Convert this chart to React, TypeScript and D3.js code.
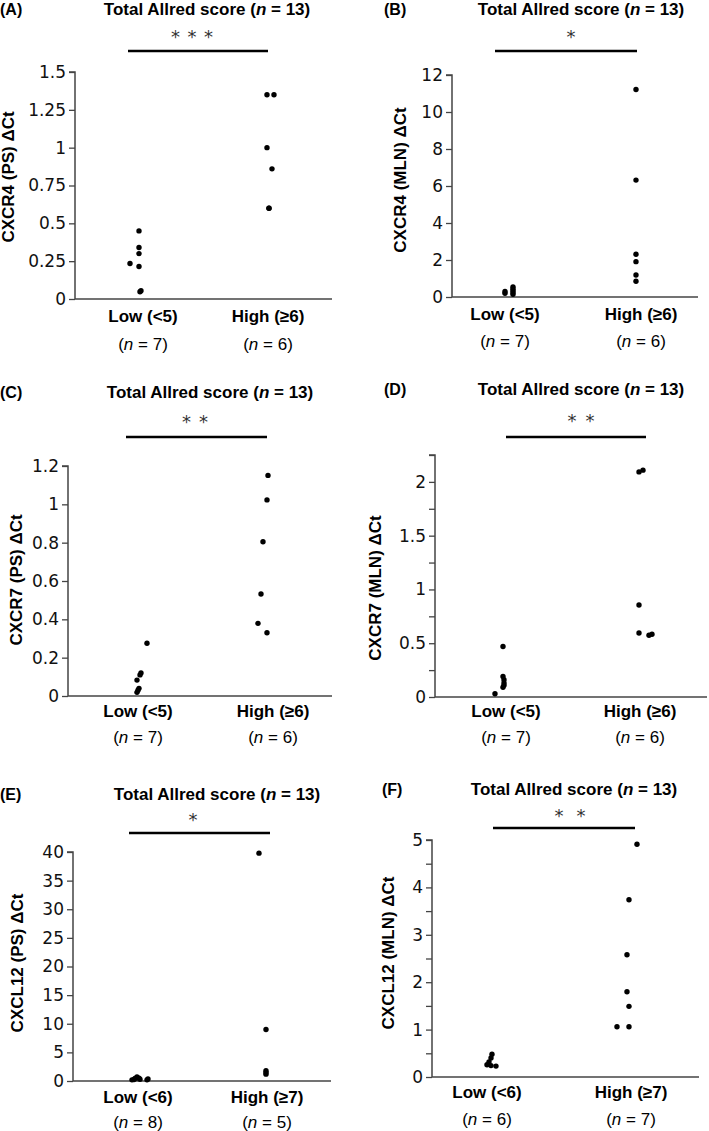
import React, { useEffect, useRef } from "react";
import * as d3 from "d3";

const TITLE = "Total Allred score";
const TOTAL_N = 13;

// ---- Panel A: CXCR4 (PS)
const A_CATS = ["Low (<5)", "High (≥6)"];
const A_N = ["7", "6"];
const A_LOW = [0.45, 0.34, 0.3, 0.235, 0.215, 0.055, 0.048];
const A_LOW_JIT = [-4, -4, -4, -13, -4, -2, -3];
const A_HIGH = [1.35, 1.35, 1.0, 0.86, 0.6, 0.6];
const A_HIGH_JIT = [-1, 6, -1, 4, 1, 1];
const A_TICKS = [0, 0.25, 0.5, 0.75, 1, 1.25, 1.5];
const A_MINOR: number[] = [];
const A_YMAX = 1.5;
const A_YLABEL = "CXCR4 (PS) ΔCt";
const A_STARS = 3;

// ---- Panel B: CXCR4 (MLN)
const B_CATS = ["Low (<5)", "High (≥6)"];
const B_N = ["7", "6"];
const B_LOW = [0.2, 0.3, 0.55, 0.45, 0.35, 0.25, 0.15];
const B_LOW_JIT = [0, 0, 8, 8, 8, 8, 8];
const B_HIGH = [11.22, 6.32, 2.31, 1.91, 1.19, 0.85];
const B_HIGH_JIT = [-5, -5, -5, -5, -5, -5];
const B_TICKS = [0, 2, 4, 6, 8, 10, 12];
const B_MINOR: number[] = [];
const B_YMAX = 12;
const B_YLABEL = "CXCR4 (MLN) ΔCt";
const B_STARS = 1;

// ---- Panel C: CXCR7 (PS)
const C_CATS = ["Low (<5)", "High (≥6)"];
const C_N = ["7", "6"];
const C_LOW = [0.275, 0.12, 0.11, 0.083, 0.04, 0.03, 0.019];
const C_LOW_JIT = [9, 3, 2, -1, 1, 0, -1];
const C_HIGH = [1.151, 1.023, 0.805, 0.532, 0.379, 0.33];
const C_HIGH_JIT = [-5, -6, -10, -12, -15, -6];
const C_TICKS = [0, 0.2, 0.4, 0.6, 0.8, 1, 1.2];
const C_MINOR: number[] = [];
const C_YMAX = 1.2;
const C_YLABEL = "CXCR7 (PS) ΔCt";
const C_STARS = 2;

// ---- Panel D: CXCR7 (MLN)
const D_CATS = ["Low (<5)", "High (≥6)"];
const D_N = ["7", "6"];
const D_LOW = [0.47, 0.19, 0.16, 0.13, 0.11, 0.09, 0.03];
const D_LOW_JIT = [-3, -3, -2, -2, -2, -3, -11];
const D_HIGH = [2.093, 2.109, 0.856, 0.595, 0.574, 0.583];
const D_HIGH_JIT = [-1, 3, -1, -1, 9, 12];
const D_TICKS = [0, 0.5, 1, 1.5, 2];
const D_MINOR = [0.25, 0.75, 1.25, 1.75, 2.25];
const D_YMAX = 2.25;
const D_YLABEL = "CXCR7 (MLN) ΔCt";
const D_STARS = 2;

// ---- Panel E: CXCL12 (PS)
const E_CATS = ["Low (<6)", "High (≥7)"];
const E_N = ["8", "5"];
const E_LOW = [0.2, 0.45, 0.7, 0.5, 0.3, 0.35, 0.2, 0.25];
const E_LOW_JIT = [-6, -3, -1, 1, 2, 10, 9, -4];
const E_HIGH = [39.8, 9.0, 1.8, 1.5, 1.2];
const E_HIGH_JIT = [-8, -1, -1, -1, -1];
const E_TICKS = [0, 5, 10, 15, 20, 25, 30, 35, 40];
const E_MINOR: number[] = [];
const E_YMAX = 40;
const E_YLABEL = "CXCL12 (PS) ΔCt";
const E_STARS = 1;

// ---- Panel F: CXCL12 (MLN)
const F_CATS = ["Low (<6)", "High (≥7)"];
const F_N = ["6", "7"];
const F_LOW = [0.48, 0.4, 0.32, 0.26, 0.24, 0.23];
const F_LOW_JIT = [5, 4, 2, 0, 4, 9];
const F_HIGH = [4.91, 3.74, 2.58, 1.8, 1.49, 1.06, 1.06];
const F_HIGH_JIT = [6, -2, -4, -4, -2, -14, -2];
const F_TICKS = [0, 1, 2, 3, 4, 5];
const F_MINOR = [0.5, 1.5, 2.5, 3.5, 4.5];
const F_YMAX = 5;
const F_YLABEL = "CXCL12 (MLN) ΔCt";
const F_STARS = 2;

// ---- Layout (positions only)
const LAYOUT: Record<string, any> = {
  A: { tagX: 0, tagY: 15, titleX: 207, titleY: 15, starX: 192, starY: 43, starGap: 16.5, lx1: 128, lx2: 268, ly: 51, axisX: 75, yTop: 72, y0: 299, xEnd: 332, c1: 143, c2: 268, catY: 322, nY: 350, ylX: 14, ylY: 177 },
  B: { tagX: 384, tagY: 15, titleX: 581, titleY: 15, starX: 571, starY: 43, starGap: 16, lx1: 495, lx2: 637, ly: 51, axisX: 452, yTop: 75, y0: 297, xEnd: 698, c1: 505, c2: 641, catY: 320, nY: 347, ylX: 406, ylY: 180 },
  C: { tagX: 0, tagY: 398, titleX: 210, titleY: 398, starX: 195, starY: 428, starGap: 17, lx1: 126, lx2: 267, ly: 437, axisX: 68, yTop: 466, y0: 696, xEnd: 332, c1: 138, c2: 273, catY: 717, nY: 743, ylX: 22, ylY: 580 },
  D: { tagX: 384, tagY: 395, titleX: 581, titleY: 395, starX: 581, starY: 427, starGap: 18, lx1: 506, lx2: 646, ly: 437, axisX: 435, yTop: 455, y0: 697, xEnd: 707, c1: 506, c2: 640, catY: 717, nY: 743, ylX: 381, ylY: 588 },
  E: { tagX: 0, tagY: 800, titleX: 217, titleY: 800, starX: 193, starY: 826, starGap: 16, lx1: 129, lx2: 270, ly: 833, axisX: 73, yTop: 852, y0: 1081, xEnd: 331, c1: 138, c2: 267, catY: 1103, nY: 1128, ylX: 23, ylY: 963 },
  F: { tagX: 382, tagY: 795, titleX: 574, titleY: 795, starX: 570, starY: 822, starGap: 22, lx1: 493, lx2: 635, ly: 828, axisX: 432, yTop: 840, y0: 1077, xEnd: 699, c1: 487, c2: 631, catY: 1098, nY: 1125, ylX: 394, ylY: 953 },
};

const PANELS = [
  { id: "A", cats: A_CATS, n: A_N, low: A_LOW, lowJ: A_LOW_JIT, high: A_HIGH, highJ: A_HIGH_JIT, ticks: A_TICKS, minor: A_MINOR, ymax: A_YMAX, ylabel: A_YLABEL, stars: A_STARS },
  { id: "B", cats: B_CATS, n: B_N, low: B_LOW, lowJ: B_LOW_JIT, high: B_HIGH, highJ: B_HIGH_JIT, ticks: B_TICKS, minor: B_MINOR, ymax: B_YMAX, ylabel: B_YLABEL, stars: B_STARS },
  { id: "C", cats: C_CATS, n: C_N, low: C_LOW, lowJ: C_LOW_JIT, high: C_HIGH, highJ: C_HIGH_JIT, ticks: C_TICKS, minor: C_MINOR, ymax: C_YMAX, ylabel: C_YLABEL, stars: C_STARS },
  { id: "D", cats: D_CATS, n: D_N, low: D_LOW, lowJ: D_LOW_JIT, high: D_HIGH, highJ: D_HIGH_JIT, ticks: D_TICKS, minor: D_MINOR, ymax: D_YMAX, ylabel: D_YLABEL, stars: D_STARS },
  { id: "E", cats: E_CATS, n: E_N, low: E_LOW, lowJ: E_LOW_JIT, high: E_HIGH, highJ: E_HIGH_JIT, ticks: E_TICKS, minor: E_MINOR, ymax: E_YMAX, ylabel: E_YLABEL, stars: E_STARS },
  { id: "F", cats: F_CATS, n: F_N, low: F_LOW, lowJ: F_LOW_JIT, high: F_HIGH, highJ: F_HIGH_JIT, ticks: F_TICKS, minor: F_MINOR, ymax: F_YMAX, ylabel: F_YLABEL, stars: F_STARS },
];

const BOLD = "'Liberation Sans', Arial, sans-serif";
const TICKFONT = "'DejaVu Sans', Verdana, sans-serif";

function Panel({ p }: { p: any }) {
  const L = LAYOUT[p.id];
  const axisRef = useRef<SVGGElement>(null);
  const minorRef = useRef<SVGGElement>(null);
  const y = d3.scaleLinear().domain([0, p.ymax]).range([L.y0, L.yTop]);
  const x = d3.scalePoint<string>().domain(p.cats).range([L.c1, L.c2]).padding(0);

  useEffect(() => {
    const g = d3.select(axisRef.current!);
    g.selectAll("*").remove();
    g.call(
      d3.axisLeft(y).tickValues(p.ticks).tickSize(6).tickPadding(3).tickFormat((d: any) => String(d))
    );
    g.select(".domain").attr("stroke", "#444").attr("stroke-width", 1.5).attr("d", `M-6,${L.yTop}H0V${L.y0}`);
    g.selectAll(".tick line").attr("stroke", "#444").attr("stroke-width", 1.3);
    g.selectAll(".tick text").attr("fill", "#111").style("font-family", TICKFONT).style("font-size", "17px");
    const m = d3.select(minorRef.current!);
    m.selectAll("*").remove();
    if (p.minor.length) {
      m.call(d3.axisLeft(y).tickValues(p.minor).tickSize(6).tickFormat(() => ""));
      m.select(".domain").remove();
      m.selectAll(".tick line").attr("stroke", "#444").attr("stroke-width", 1.3);
    }
  }, []);

  const starXs = d3.range(p.stars).map((i) => L.starX + (i - (p.stars - 1) / 2) * L.starGap);

  return (
    <g>
      <text x={L.tagX} y={L.tagY} fontFamily={BOLD} fontWeight="bold" fontSize={16}>{`(${p.id})`}</text>
      <text x={L.titleX} y={L.titleY} textAnchor="middle" fontFamily={BOLD} fontWeight="bold" fontSize={17}>
        {`${TITLE} (`}<tspan fontStyle="italic">n</tspan>{` = ${TOTAL_N})`}
      </text>
      {starXs.map((sx, i) => (
        <text key={i} x={sx} y={L.starY} textAnchor="middle" fontFamily={TICKFONT} fontSize={18} fill="#333">*</text>
      ))}
      <line x1={L.lx1} x2={L.lx2} y1={L.ly} y2={L.ly} stroke="#000" strokeWidth={2.6} />
      <g ref={minorRef} transform={`translate(${L.axisX},0)`} />
      <g ref={axisRef} transform={`translate(${L.axisX},0)`} />
      <line x1={L.axisX} x2={L.xEnd} y1={L.y0} y2={L.y0} stroke="#444" strokeWidth={1.5} />
      <text transform={`translate(${L.ylX},${L.ylY}) rotate(-90)`} textAnchor="middle" fontFamily={BOLD} fontWeight="bold" fontSize={17}>{p.ylabel}</text>
      {p.cats.map((c: string, i: number) => (
        <g key={c}>
          <text x={x(c)} y={L.catY} textAnchor="middle" fontFamily={BOLD} fontWeight="bold" fontSize={17}>{c}</text>
          <text x={x(c)} y={L.nY} textAnchor="middle" fontFamily={BOLD} fontSize={17}>
            {"("}<tspan fontStyle="italic">n</tspan>{` = ${p.n[i]})`}
          </text>
        </g>
      ))}
      {p.low.map((v: number, i: number) => (
        <circle key={"l" + i} cx={(x(p.cats[0]) as number) + p.lowJ[i]} cy={y(v)} r={2.7} fill="#000" />
      ))}
      {p.high.map((v: number, i: number) => (
        <circle key={"h" + i} cx={(x(p.cats[1]) as number) + p.highJ[i]} cy={y(v)} r={2.7} fill="#000" />
      ))}
    </g>
  );
}

export default function App() {
  return (
    <svg width={709} height={1131} style={{ position: "absolute", left: 0, top: 0, background: "#fff" }}>
      <rect width={709} height={1131} fill="#fff" />
      {PANELS.map((p) => (
        <Panel key={p.id} p={p} />
      ))}
    </svg>
  );
}
